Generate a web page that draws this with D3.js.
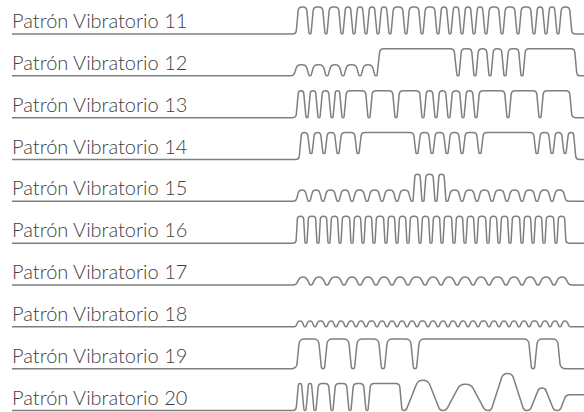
<!DOCTYPE html>
<html>
<head>
<meta charset="utf-8">
<script src="https://cdn.jsdelivr.net/npm/d3@7"></script>
<style>
    html, body { margin: 0; padding: 0; background: #fff; }
    svg { display: block; }
    .label { font-family: Lato, "Open Sans", sans-serif; font-weight: 300; font-size: 20px; fill: #404040; }
    .wave { fill: none; stroke: #7f7f7f; stroke-width: 1.5; stroke-linejoin: round; }
</style>
</head>
<body>
<svg id="chart" width="584" height="412"></svg>
<script>
    //////////// DATA ////////////

    var patterns = ["Patrón Vibratorio 11", "Patrón Vibratorio 12", "Patrón Vibratorio 13",
        "Patrón Vibratorio 14", "Patrón Vibratorio 15", "Patrón Vibratorio 16",
        "Patrón Vibratorio 17", "Patrón Vibratorio 18", "Patrón Vibratorio 19",
        "Patrón Vibratorio 20"];

    // pulses: [start, end, amplitude, ramp, dip level before next pulse, roundness, trough width]
    var p11 = [[5,20],[20,36],[36,52],[52,64],[64,76],[76,88],[88,100],[100,116],[116,132],[132,148],
        [148,160],[160,172],[172,184],[184,196],[196,212],[212,228],[228,244],[244,256],[256,268],[268,283]];
    var p12 = [[3,20,0.41,3,0,5],[20,37,0.41,3,0,5],[37,53,0.41,3,0,5],[53,70,0.41,3,0,5],[70,86,0.41,3,0,5],
        [86,168,1,3],[168,185],[185,200],[200,215],[215,232],[232,288]];
    var p13 = [[5,17],[17,29],[29,42],[42,53],[53,79],[79,106],[106,133],[133,146],[146,159],[159,173],
        [173,186],[186,218],[218,250],[250,283]];
    var p14 = [[8,21,1,null,0.22],[21,34,1,null,0.22],[34,48,1,null,0.22],[48,68,1,null,0.22],
        [68,127,1,null,0.22],[127,142,1,null,0.22],[142,157,1,null,0.22],[157,172,1,null,0.22],
        [172,190,1,null,0.22],[190,247,1,null,0.22],[247,262,1,null,0.22],[262,275,1,null,0.22],[275,287]];
    var p15 = [[5,19,0.42],[19,33,0.42],[33,48,0.42],[48,62,0.42],[62,77,0.42],[77,92,0.42],[92,107,0.42],
        [107,122,0.42],[122,133,1,2,0,4],[133,146,1,2,0,4],[146,157,1,2,0,4],[157,172,0.42],[172,187,0.42],
        [187,202,0.42],[202,217,0.42],[217,232,0.42],[232,247,0.42],[247,262,0.42],[262,277,0.42]];
    var p16 = [[5,16],[16,28],[28,39],[39,50],[50,62],[62,73],[73,84],[84,96],[96,107],[107,118],[118,130],
        [130,141],[141,152],[152,164],[164,175],[175,186],[186,198],[198,209],[209,220],[220,232],
        [232,243],[243,254],[254,266],[266,277]];
    var p17 = [[5,21,0.3],[21,37,0.3],[37,54,0.3],[54,70,0.3],[70,86,0.3],[86,102,0.3],[102,118,0.3],
        [118,135,0.3],[135,151,0.3],[151,167,0.3],[167,183,0.3],[183,199,0.3],[199,216,0.3],[216,232,0.3],
        [232,248,0.3],[248,264,0.3],[264,280,0.3]];
    var p18 = [[5,15,0.22],[15,25,0.22],[25,36,0.22],[36,46,0.22],[46,56,0.22],[56,66,0.22],[66,76,0.22],
        [76,87,0.22],[87,97,0.22],[97,107,0.22],[107,117,0.22],[117,127,0.22],[127,138,0.22],[138,148,0.22],
        [148,158,0.22],[158,168,0.22],[168,178,0.22],[178,188,0.22],[188,199,0.22],[199,209,0.22],
        [209,219,0.22],[219,229,0.22],[229,239,0.22],[239,250,0.22],[250,260,0.22],[260,270,0.22],[270,280,0.22]];
    var p19 = [[5,33,1.1],[33,63,1.1],[63,93,1.1],[93,125,1.1],[125,243,1.1],[243,272,1.1]];
    var p20 = [[5,15],[15,25],[25,42],[42,60],[60,77],[77,113],[113,153,1.12,12,0,8,6],
        [153,198,0.97,14,0,8,6],[198,237,1.37,12,0,7,6],[237,267,0.83,9,0,6,6],[267,330,0.58,6,0,5,6]];

    var pulses = [p11, p12, p13, p14, p15, p16, p17, p18, p19, p20];
    // default ramp, corner roundness and trough width per pattern
    var ramps = [2.5, 2.5, 2.5, 2.5, 3, 1.5, 4, 2.5, 3, 2.5];
    var rounds = [4, 4, 4, 4, 4, 3, 5, 2.5, 5, 4];
    var gaps = [2, 2, 2, 2, 2, 2, 2, 1.5, 3, 2];

    //////////// LAYOUT ////////////

    var svg = d3.select("#chart"),
        width = +svg.attr("width"),
        height = +svg.attr("height");

    // time axis: waveform starts near x = 290, labels' underline starts at x = 12
    var x = d3.scaleLinear().domain([-278, 294]).range([12, width]);
    var row = d3.scalePoint().domain(patterns).range([34, 410.5]);
    var y = d3.scaleLinear().domain([0, 1]).range([0, -27]);

    // turn a list of pulses into corner knots [t, v, roundness]
    function knots(list, ramp, round, gap) {
        var t0 = x.domain()[0], t1 = x.domain()[1];
        var pts = [[t0, 0, 0]];
        var lastT = t0, lastDip = 0;
        list.forEach(function (p) {
            var on = p[0], off = p[1];
            var amp = p[2] == null ? 1 : p[2];
            var r = p[3] == null ? ramp : p[3];
            var dip = p[4] || 0;
            var rr = p[5] == null ? round : p[5];
            var h = (p[6] == null ? gap : p[6]) / 2;
            var base = on > lastT ? 0 : lastDip;
            var a = on + h + r, b = off - h - r;
            pts.push([on + h, base, rr]);
            if (b > a) {
                pts.push([a, amp, rr]);
                pts.push([b, amp, rr]);
            } else {
                pts.push([(a + b) / 2, amp, rr]);
            }
            pts.push([off - h, dip, rr]);
            lastT = off;
            lastDip = dip;
        });
        if (lastT < t1) pts.push([t1, 0, 0]);
        return pts;
    }

    // polyline through the knots with rounded corners
    function wavePath(k) {
        var pts = k.map(function (d) { return [x(d[0]), y(d[1]), d[2]]; });
        var path = d3.path();
        path.moveTo(pts[0][0], pts[0][1]);
        for (var i = 1; i < pts.length - 1; i++) {
            var a = pts[i - 1], b = pts[i], c = pts[i + 1];
            var ux = a[0] - b[0], uy = a[1] - b[1], vx = c[0] - b[0], vy = c[1] - b[1];
            var lu = Math.hypot(ux, uy), lv = Math.hypot(vx, vy);
            var cos = (ux * vx + uy * vy) / (lu * lv);
            var r = b[2];
            if (1 + cos > 1e-9) {
                var tanHalf = Math.sqrt((1 - cos) / (1 + cos));
                r = Math.min(r, tanHalf * Math.min(lu, lv) / 2);
            }
            if (r > 0.01) path.arcTo(b[0], b[1], c[0], c[1], r);
            else path.lineTo(b[0], b[1]);
        }
        var last = pts[pts.length - 1];
        path.lineTo(last[0], last[1]);
        return path.toString();
    }

    //////////// DISPLAY ////////////

    var g = svg.selectAll("g.row")
        .data(patterns)
        .enter().append("g")
        .attr("class", "row")
        .attr("transform", function (d) { return "translate(0," + row(d) + ")"; });

    g.append("path")
        .attr("class", "wave")
        .attr("d", function (d, i) { return wavePath(knots(pulses[i], ramps[i], rounds[i], gaps[i])); });

    g.append("text")
        .attr("class", "label")
        .attr("x", 12)
        .attr("y", -6)
        .text(function (d) { return d; });
</script>
</body>
</html>
